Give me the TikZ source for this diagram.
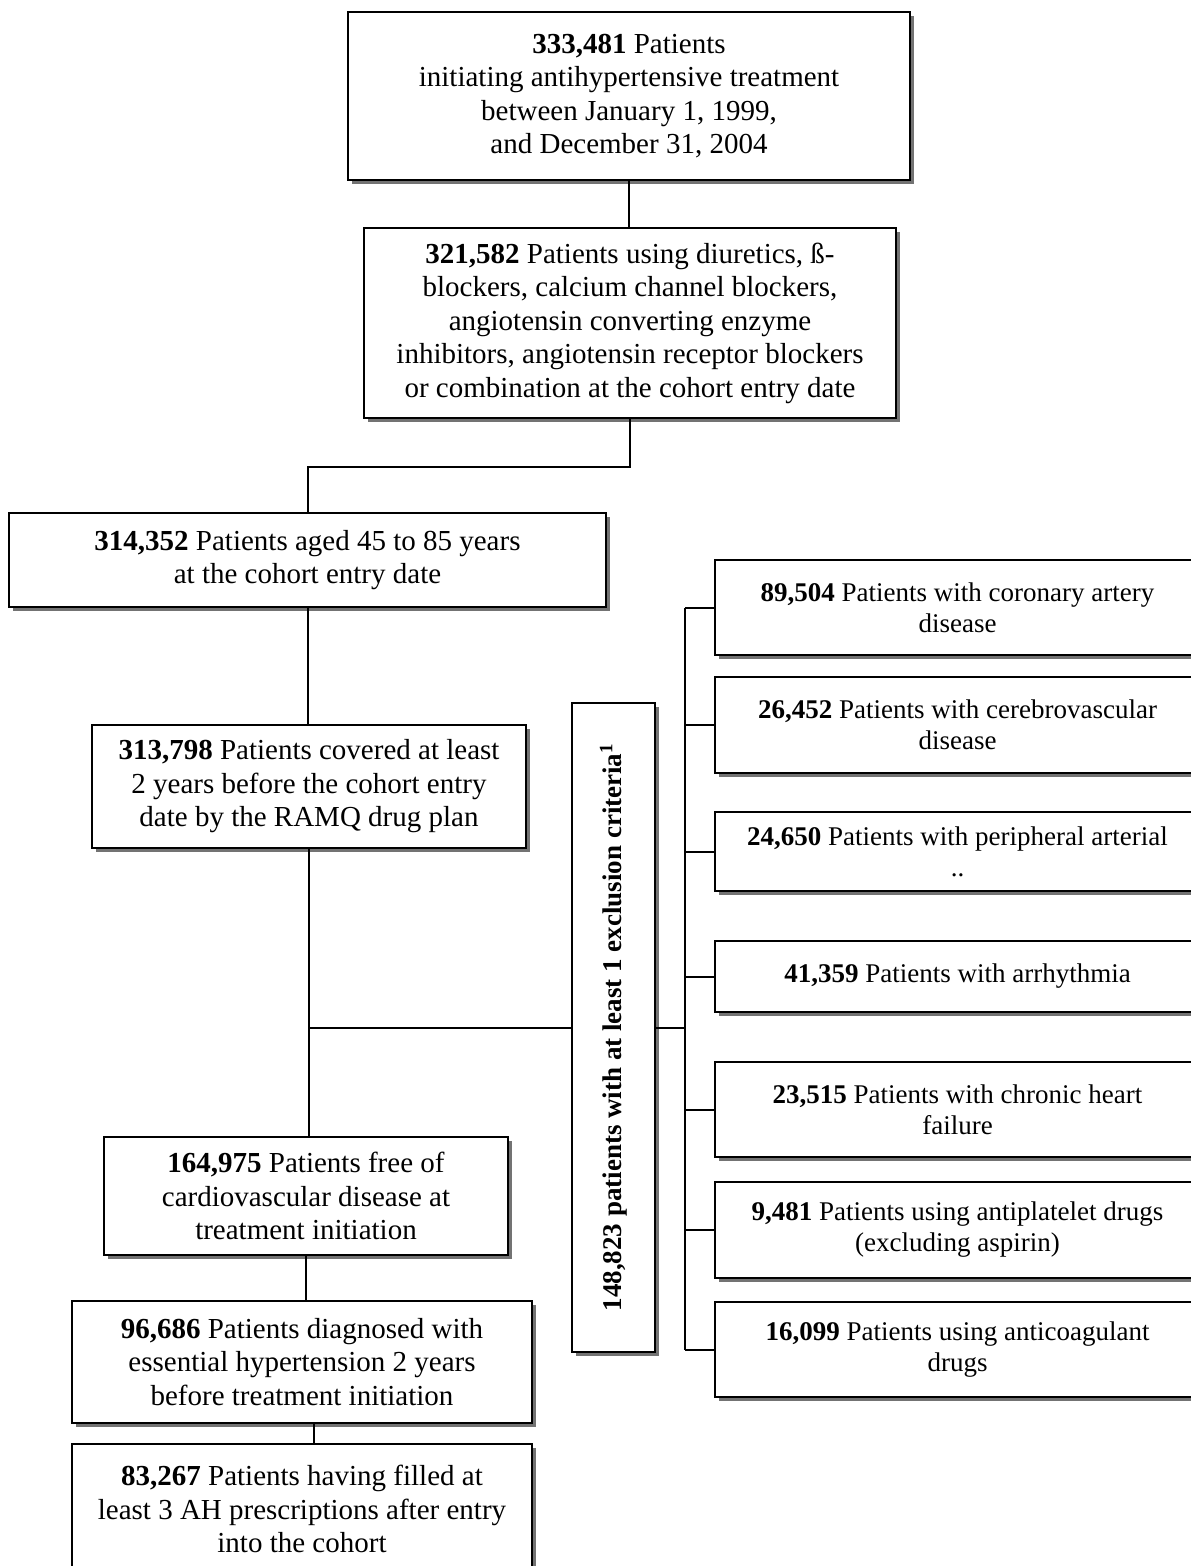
\documentclass[tikz,border=0pt]{standalone}
\usepackage{fontspec}
\setmainfont{Liberation Serif}
\usetikzlibrary{shadows}
\begin{document}
\begin{tikzpicture}[x=1pt,y=-1pt,
  box/.style={draw=black,line width=2.4pt,fill=white,inner sep=0pt,align=center,
     drop shadow={shadow xshift=3.5pt,shadow yshift=-3.5pt,fill=black!55,opacity=1},
     font=\fontsize{29}{33.5}\selectfont},
  rbox/.style={box,minimum width=485pt,font=\fontsize{27}{31}\selectfont},
  conn/.style={line width=2pt}]
\useasboundingbox (0,0) rectangle (1191,1566);
\clip (0,0) rectangle (1191,1566);
\fill[white] (0,0) rectangle (1191,1566);

\node[box,minimum width=562pt,minimum height=168pt] (b1) at (629,96)
  {\textbf{333,481} Patients\\initiating antihypertensive treatment\\between January 1, 1999,\\and December 31, 2004};
\node[box,minimum width=532pt,minimum height=190pt] (b2) at (630,323)
  {\textbf{321,582} Patients using diuretics, ß-\\blockers, calcium channel blockers,\\angiotensin converting enzyme\\inhibitors, angiotensin receptor blockers\\or combination at the cohort entry date};
\node[box,minimum width=597pt,minimum height=94pt] (b3) at (307.5,560)
  {\textbf{314,352} Patients aged 45 to 85 years\\at the cohort entry date};
\node[box,minimum width=434pt,minimum height=123pt] (b4) at (309,786.5)
  {\textbf{313,798} Patients covered at least\\2 years before the cohort entry\\date by the RAMQ drug plan};
\node[box,minimum width=404pt,minimum height=118pt] (b5) at (306,1196)
  {\textbf{164,975} Patients free of\\cardiovascular disease at\\treatment initiation};
\node[box,minimum width=460pt,minimum height=122pt] (b7) at (302,1362)
  {\textbf{96,686} Patients diagnosed with\\essential hypertension 2 years\\before treatment initiation};
\node[box,minimum width=460pt,minimum height=130pt] (b8) at (302,1509)
  {\textbf{83,267} Patients having filled at\\least 3 AH prescriptions after entry\\into the cohort};

\node[box,minimum width=83pt,minimum height=649pt] (v) at (613.5,1027.5)
  {\rotatebox{90}{\fontsize{27}{31}\selectfont\textbf{148,823 patients with at least 1 exclusion criteria\textsuperscript{1}}}};

\node[rbox,minimum height=95pt] (r1) at (957.5,607.5) {\textbf{89,504} Patients with coronary artery\\disease};
\node[rbox,minimum height=96pt] (r2) at (957.5,725) {\textbf{26,452} Patients with cerebrovascular\\disease};
\node[rbox,minimum height=79pt] (r3) at (957.5,851.5) {\textbf{24,650} Patients with peripheral arterial\\..};
\node[rbox,minimum height=71pt] (r4) at (957.5,976.5) {\textbf{41,359} Patients with arrhythmia};
\node[rbox,minimum height=95pt] (r5) at (957.5,1109.5) {\textbf{23,515} Patients with chronic heart\\failure};
\node[rbox,minimum height=96pt] (r6) at (957.5,1230) {\textbf{9,481} Patients using antiplatelet drugs\\(excluding aspirin)};
\node[rbox,minimum height=95pt] (r7) at (957.5,1349.5) {\textbf{16,099} Patients using anticoagulant\\drugs};

\coordinate (bus) at (685,1027.5);

\draw[conn] (b1.south) -- (b1.south |- b2.north);
\draw[conn] (b2.south) -- ++(0,48) -| (b3.north);
\draw[conn] (b3.south) -- (b3.south |- b4.north);
\draw[conn] (b4.south) -- (b4.south |- b5.north);
\draw[conn] (b4.south |- v.west) -- (v.west);
\draw[conn] (b5.south) -- (b5.south |- b7.north);
\draw[conn] ([xshift=12pt]b7.south) -- ([xshift=12pt]b7.south |- b8.north);
\draw[conn] (v.east) -- (bus);
\draw[conn] (r1.west -| bus) -- (r7.west -| bus);
\foreach \r in {r1,r2,r3,r4,r5,r6,r7}
  \draw[conn] (\r.west) -- (\r.west -| bus);
\end{tikzpicture}
\end{document}
